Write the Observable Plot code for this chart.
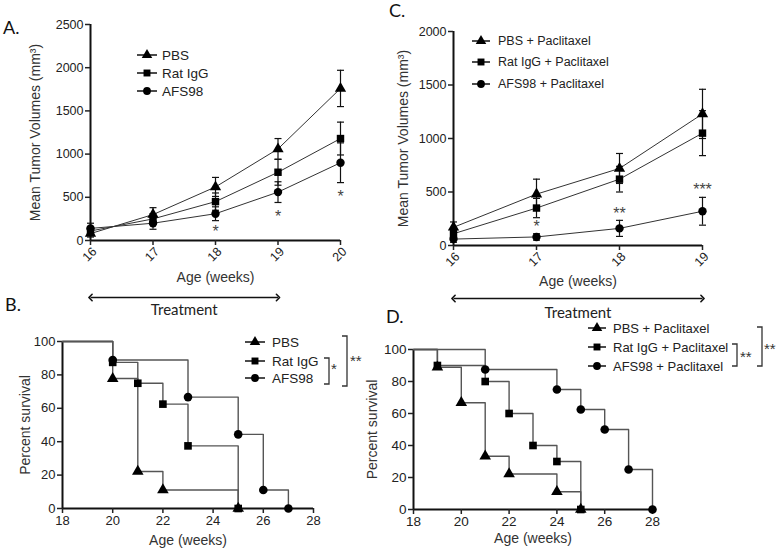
<!DOCTYPE html>
<html><head><meta charset="utf-8">
<script src="https://cdn.jsdelivr.net/npm/d3@7"></script>
<script src="https://cdn.jsdelivr.net/npm/@observablehq/plot@0.6"></script>
<style>
body{margin:0;background:#fff;}
#root{position:relative;width:780px;height:551px;overflow:hidden;background:#fff;font-family:"Liberation Sans",Arial,sans-serif;color:#222}
.panel{position:absolute}
.panel svg{max-width:none}
</style></head><body><div id="root"></div>
<script>
// ---------- Panel A: tumour volumes ----------
const weeksA = [16, 17, 18, 19, 20];
const pbsA = [80, 300, 620, 1060, 1760];
const pbsAErr = [40, 80, 110, 120, 210];
const ratA = [110, 250, 450, 790, 1180];
const ratAErr = [50, 60, 100, 150, 190];
const afsA = [140, 200, 310, 560, 900];
const afsAErr = [60, 70, 80, 120, 230];
const yTicksA = [0, 500, 1000, 1500, 2000, 2500];
const starWeeksA = [18, 19, 20];
const starValsA = [150, 325, 555];
const starLabelsA = ["*", "*", "*"];

// ---------- Panel C: tumour volumes with paclitaxel ----------
const weeksC = [16, 17, 18, 19];
const pbsC = [170, 480, 720, 1230];
const pbsCErr = [50, 140, 140, 230];
const ratC = [110, 350, 620, 1050];
const ratCErr = [40, 90, 120, 210];
const afsC = [60, 80, 160, 320];
const afsCErr = [30, 30, 75, 130];
const yTicksC = [0, 500, 1000, 1500, 2000];
const starWeeksC = [17, 18, 19];
const starValsC = [215, 336, 560];
const starLabelsC = ["*", "**", "***"];

const treatmentWeeks = [16, 19];

// ---------- Panel B: survival ----------
const pbsBTime = [18, 20, 21, 22, 25];
const pbsBSurv = [100, 77.8, 22.2, 11.1, 0];
const ratBTime = [18, 20, 21, 22, 23, 25];
const ratBSurv = [100, 87.5, 75, 62.5, 37.5, 0];
const afsBTime = [18, 20, 23, 25, 26, 27];
const afsBSurv = [100, 88.9, 66.7, 44.4, 11.1, 0];

// ---------- Panel D: survival with paclitaxel ----------
const pbsDTime = [18, 19, 20, 21, 22, 24, 25];
const pbsDSurv = [100, 88.9, 66.7, 33.3, 22.2, 11.1, 0];
const ratDTime = [18, 19, 21, 22, 23, 24, 25];
const ratDSurv = [100, 90, 80, 60, 40, 30, 0];
const afsDTime = [18, 21, 24, 25, 26, 27, 28];
const afsDSurv = [100, 87.5, 75, 62.5, 50, 25, 0];

const survTicksX = [18, 20, 22, 24, 26, 28];
const survTicksY = [0, 20, 40, 60, 80, 100];

const groupsAB = ["PBS", "Rat IgG", "AFS98"];
const groupsCD = ["PBS + Paclitaxel", "Rat IgG + Paclitaxel", "AFS98 + Paclitaxel"];
const symbolNames = ["triangle", "square", "circle"];
const symbolTypes = [d3.symbolTriangle, d3.symbolSquare, d3.symbolCircle];

const FONT = '"Liberation Sans", Arial, sans-serif';
const capSymbol = {draw(ctx, size) { const r = Math.sqrt(size / Math.PI); ctx.moveTo(-r, 0); ctx.lineTo(r, 0); }};

const root = document.getElementById("root");
function place(node, left, top, width, height) {
  const d = document.createElement("div");
  d.className = "panel";
  Object.assign(d.style, {left: left + "px", top: top + "px", width: width + "px", height: height + "px"});
  d.appendChild(node);
  root.appendChild(d);
}

function tumorPanel(o) {
  const rows = [];
  o.groups.forEach((g, i) => o.weeks.forEach((w, j) => rows.push({group: g, week: w, value: o.values[i][j], err: o.errs[i][j]})));
  const stars = o.starW.map((w, i) => ({week: w, value: o.starV[i], label: o.starL[i]}));
  const x0 = o.weeks[0];
  return Plot.plot({
    width: o.width, height: o.height,
    marginLeft: o.ml, marginRight: o.mr, marginTop: o.mt, marginBottom: o.mb,
    style: {fontFamily: FONT, fontSize: "12.5px", color: "#222", background: "transparent", overflow: "visible"},
    x: {domain: [x0, o.weeks[o.weeks.length - 1]]},
    y: {domain: [0, o.yticks[o.yticks.length - 1]]},
    symbol: {domain: o.groups, range: symbolNames},
    marks: [
      Plot.ruleX([x0], {stroke: "#111", strokeWidth: 2}),
      Plot.ruleY([0], {stroke: "#111", strokeWidth: 2}),
      Plot.axisY({ticks: o.yticks, tickSize: 5, tickPadding: 2, label: null, strokeWidth: 1.5, tickFormat: d => String(d)}),
      Plot.axisX({ticks: o.weeks, tickSize: 5, label: null, strokeWidth: 1.5, tickFormat: () => ""}),
      Plot.text(o.weeks, {x: d => d, frameAnchor: "bottom", text: d => String(d), rotate: -45, textAnchor: "end", lineAnchor: "middle", dx: 4, dy: 9, fontSize: 12.5}),
      Plot.line(rows, {x: "week", y: "value", z: "group", stroke: "#333", strokeWidth: 1}),
      Plot.ruleX(rows, {x: "week", y1: d => Math.max(0, d.value - d.err), y2: d => d.value + d.err, stroke: "#111", strokeWidth: 1.2}),
      Plot.dot(rows, {x: "week", y: d => d.value + d.err, symbol: capSymbol, r: 3.5, fill: "none", stroke: "#111", strokeWidth: 1.2}),
      Plot.dot(rows, {x: "week", y: d => Math.max(0, d.value - d.err), symbol: capSymbol, r: 3.5, fill: "none", stroke: "#111", strokeWidth: 1.2}),
      Plot.dot(rows, {x: "week", y: "value", symbol: "group", fill: "#000", r: 4.2}),
      Plot.text(stars, {x: "week", y: "value", text: "label", fontSize: 16, fill: "#444", dy: 4}),
      Plot.text(["Mean Tumor Volumes (mm³)"], {frameAnchor: "left", textAnchor: "middle", lineAnchor: "middle", rotate: -90, dx: o.ylabelDx, fontSize: 14, fill: "#333"}),
      Plot.text(["Age (weeks)"], {frameAnchor: "bottom", textAnchor: "middle", lineAnchor: "middle", dy: o.xlabelDy, fontSize: 14, fill: "#333"}),
      Plot.link([treatmentWeeks], {x1: d => d[0], x2: d => d[1], y1: () => 0, y2: () => 0, dy: o.arrowDy, stroke: "#111", strokeWidth: 1.6, markerStart: "arrow-reverse", markerEnd: "arrow"}),
      Plot.text([treatmentWeeks], {x: d => (d[0] + d[1]) / 2, y: () => 0, text: () => "Treatment", dy: o.treatDy, fontFamily: "Lato, sans-serif", fontSize: 15, fill: "#222", lineAnchor: "middle"})
    ]
  });
}

function survPanel(o) {
  const rows = [];
  o.groups.forEach((g, i) => o.times[i].forEach((t, j) => rows.push({group: g, t, s: o.survs[i][j], first: j === 0})));
  return Plot.plot({
    width: o.width, height: o.height,
    marginLeft: o.ml, marginRight: o.mr, marginTop: o.mt, marginBottom: o.mb,
    style: {fontFamily: FONT, fontSize: o.fs + "px", color: "#222", background: "transparent", overflow: "visible"},
    x: {domain: [survTicksX[0], survTicksX[survTicksX.length - 1]]},
    y: {domain: [survTicksY[0], survTicksY[survTicksY.length - 1]]},
    symbol: {domain: o.groups, range: symbolNames},
    marks: [
      Plot.ruleX([survTicksX[0]], {stroke: "#111", strokeWidth: 2}),
      Plot.ruleY([0], {stroke: "#111", strokeWidth: 2}),
      Plot.axisY({ticks: survTicksY, tickSize: 5, tickPadding: 2, label: null, strokeWidth: 1.5, tickFormat: d => String(d)}),
      Plot.axisX({ticks: survTicksX, tickSize: 5, tickPadding: 2, label: null, strokeWidth: 1.5, tickFormat: d => String(d)}),
      Plot.line(rows, {x: "t", y: "s", z: "group", curve: "step-after", stroke: "#555", strokeWidth: 1.4}),
      Plot.dot(rows.filter(d => !d.first), {x: "t", y: "s", symbol: "group", fill: "#000", r: 4.3}),
      Plot.text(["Percent survival"], {frameAnchor: "left", textAnchor: "middle", lineAnchor: "middle", rotate: -90, dx: o.ylabelDx, fontSize: 14, fill: "#333"}),
      Plot.text(["Age (weeks)"], {frameAnchor: "bottom", textAnchor: "middle", lineAnchor: "middle", dy: o.xlabelDy, fontSize: 14, fill: "#333"})
    ]
  });
}

place(tumorPanel({
  groups: groupsAB, weeks: weeksA, values: [pbsA, ratA, afsA], errs: [pbsAErr, ratAErr, afsAErr],
  starW: starWeeksA, starV: starValsA, starL: starLabelsA, yticks: yTicksA,
  width: 390, height: 320, ml: 90, mr: 50, mt: 24, mb: 80,
  ylabelDx: -55, xlabelDy: 37, arrowDy: 57, treatDy: 70
}), 0, 0, 390, 320);

place(tumorPanel({
  groups: groupsCD, weeks: weeksC, values: [pbsC, ratC, afsC], errs: [pbsCErr, ratCErr, afsCErr],
  starW: starWeeksC, starV: starValsC, starL: starLabelsC, yticks: yTicksC,
  width: 390, height: 320, ml: 63, mr: 78, mt: 31, mb: 75,
  ylabelDx: -50, xlabelDy: 36, arrowDy: 53, treatDy: 68
}), 390, 0, 390, 320);

place(survPanel({
  groups: groupsAB, times: [pbsBTime, ratBTime, afsBTime], survs: [pbsBSurv, ratBSurv, afsBSurv],
  width: 390, height: 231, ml: 62, mr: 77, mt: 21, mb: 43, fs: 13,
  ylabelDx: -37, xlabelDy: 32
}), 0, 320, 390, 231);

place(survPanel({
  groups: groupsCD, times: [pbsDTime, ratDTime, afsDTime], survs: [pbsDSurv, ratDSurv, afsDSurv],
  width: 430, height: 231, ml: 63, mr: 128, mt: 29, mb: 42, fs: 13.5,
  ylabelDx: -41, xlabelDy: 29
}), 350, 320, 430, 231);

// ---------- overlay: legends, brackets, panel letters ----------
const ov = d3.create("svg").attr("width", 780).attr("height", 551)
  .style("position", "absolute").style("left", "0px").style("top", "0px")
  .attr("font-family", FONT).attr("fill", "#222");

function legend(groups, mx, half, tx, rows, fs) {
  groups.forEach((g, i) => {
    const y = rows[i];
    ov.append("line").attr("x1", mx - half).attr("x2", mx + half).attr("y1", y).attr("y2", y).attr("stroke", "#111").attr("stroke-width", 1.5);
    ov.append("path").attr("transform", `translate(${mx},${y})`).attr("d", d3.symbol(symbolTypes[i], 48)()).attr("fill", "#000");
    ov.append("text").attr("x", tx).attr("y", y).attr("dy", "0.35em").attr("font-size", fs).text(g);
  });
}
function bracket(x, y1, y2, label, lx, ly, fs) {
  ov.append("path").attr("d", `M${x - 5},${y1}H${x}V${y2}H${x - 5}`).attr("fill", "none").attr("stroke", "#333").attr("stroke-width", 1.3);
  ov.append("text").attr("x", lx).attr("y", ly).attr("dy", "0.7em").attr("font-size", fs).attr("fill", "#333").text(label);
}
legend(groupsAB, 147, 10, 162, [55, 73, 91], 13.5);
legend(groupsCD, 481, 9, 498, [41, 62, 84], 12.5);
legend(groupsAB, 255, 10, 272, [342, 361, 378], 13.5);
legend(groupsCD, 597, 9, 613, [328, 347, 366], 13);
bracket(329, 358, 384, "*", 331, 363, 15);
bracket(347, 336, 386, "**", 350, 355, 15);
bracket(737, 344, 366, "**", 740, 351, 15);
bracket(762, 327, 366, "**", 764, 343, 15);

const letters = [["A.", 3, 34], ["C.", 389, 17], ["B.", 5, 311], ["D.", 386, 323]];
letters.forEach(([t, x, y]) => ov.append("text").attr("x", x).attr("y", y).attr("font-family", "Lato, sans-serif").attr("font-size", 18).attr("fill", "#111").text(t));

root.appendChild(ov.node());
</script>
</body></html>
